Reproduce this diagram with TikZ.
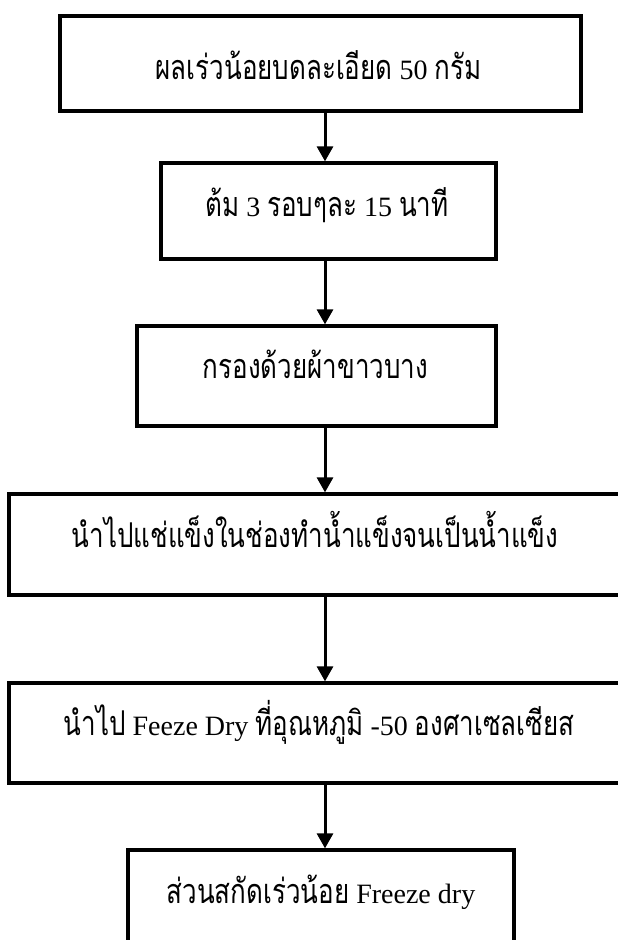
\documentclass[tikz,border=0pt]{standalone}
\usepackage{fontspec}
\setmainfont{Liberation Serif}
\newfontfamily\thaifont[Script=Thai,Scale=1.22,FakeStretch=0.76]{Loma}
\newcommand{\T}[1]{{\thaifont #1}}
\usetikzlibrary{arrows.meta}
\tikzset{
  stepbox/.style={draw=black, line width=3.3pt, fill=white, inner sep=0pt},
  lbl/.style={anchor=base, inner sep=0pt, font=\fontsize{28}{30}\selectfont},
  arr/.style={line width=3pt, -{Triangle[width=16pt,length=15pt]}},
}
\begin{document}
\begin{tikzpicture}[x=1pt,y=-1pt]
\clip (0,0) rectangle (618,940);
\fill[white] (0,0) rectangle (618,940);
\coordinate (ax) at (325,0);
\node[stepbox, minimum width=521pt, minimum height=95pt] (b1) at (320.5,63.5) {};
\node[stepbox, minimum width=335pt, minimum height=96pt] (b2) at (328.5,211) {};
\node[stepbox, minimum width=359pt, minimum height=100pt] (b3) at (316.5,376) {};
\node[stepbox, minimum width=619pt, minimum height=101pt] (b4) at (318.5,544.5) {};
\node[stepbox, minimum width=619pt, minimum height=100pt] (b5) at (318.5,733) {};
\node[stepbox, minimum width=386pt, minimum height=110pt] (b6) at (321,905) {};
\node[lbl] (t1) at (318.5,79) {\T{ผลเร่วน้อยบดละเอียด} 50 \T{กรัม}};
\node[lbl] (t2) at (327,216) {\T{ต้ม} 3 \T{รอบๆละ} 15 \T{นาที}};
\node[lbl] (t3) at (315.5,378) {\T{กรองด้วยผ้าขาวบาง}};
\node[lbl] (t4) at (315,547) {\T{นำไปแช่แข็งในช่องทำน้ำแข็งจนเป็นน้ำแข็ง}};
\node[lbl] (t5) at (319,735) {\T{นำไป} Feeze Dry \T{ที่อุณหภูมิ} -50 \T{องศาเซลเซียส}};
\node[lbl] (t6) at (321,903) {\T{ส่วนสกัดเร่วน้อย} Freeze dry};
\draw[arr] (b1.south -| ax) -- (b2.north -| ax);
\draw[arr] (b2.south -| ax) -- (b3.north -| ax);
\draw[arr] (b3.south -| ax) -- (b4.north -| ax);
\draw[arr] (b4.south -| ax) -- (b5.north -| ax);
\draw[arr] (b5.south -| ax) -- (b6.north -| ax);
\end{tikzpicture}
\end{document}
